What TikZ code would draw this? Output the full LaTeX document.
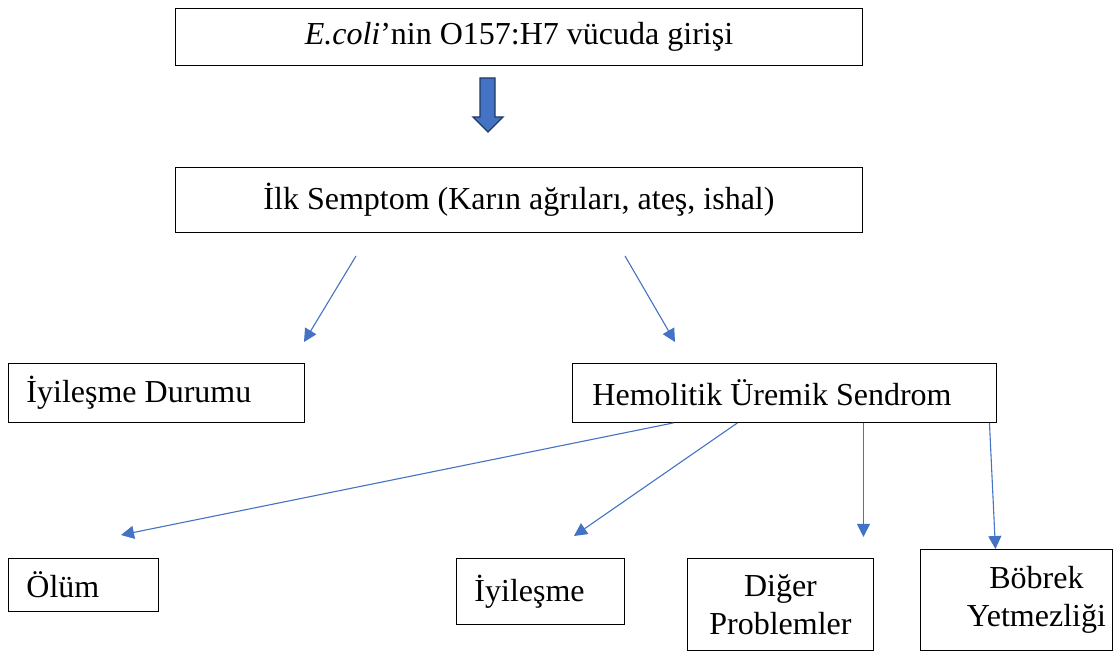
\documentclass[tikz,border=0pt]{standalone}
\usepackage{fontspec}
\setmainfont{Liberation Serif}
\usetikzlibrary{positioning, calc, arrows.meta}
\definecolor{okmavi}{HTML}{4472C4}
\definecolor{koyumavi}{HTML}{203864}

\begin{document}
\begin{tikzpicture}[x=1pt,y=-1pt,
        kutu/.style={draw, line width=0.9pt, anchor=north west, inner xsep=18pt, inner ysep=0pt,
            font=\fontsize{32}{38}\selectfont},
        ok/.style={okmavi, line width=1.1pt, -{Triangle[length=13pt,width=13pt]}}]
        \useasboundingbox (0,0) rectangle (1115,652);
        %kutular
            \node[kutu, minimum width=687pt, minimum height=57pt] (giris) at (175,8)
                {\textit{E.coli}’nin O157:H7 vücuda girişi};
            \node[kutu, minimum width=687pt, minimum height=65pt] (semptom) at (175,167)
                {İlk Semptom (Karın ağrıları, ateş, ishal)};
            \node[kutu, minimum width=296pt, minimum height=59pt, text width=260pt, align=flush left] (durum) at (8,363)
                {İyileşme Durumu};
            \node[kutu, minimum width=424pt, minimum height=59pt, inner xsep=20pt, text width=384pt, align=flush left] (hus) at (572,363)
                {Hemolitik Üremik Sendrom};
            \node[kutu, minimum width=150pt, minimum height=53pt, text width=114pt, align=flush left] (olum) at (8,558)
                {Ölüm};
            \node[kutu, minimum width=168pt, minimum height=66pt, text width=132pt, align=flush left] (iyilesme) at (456,558)
                {İyileşme};
            \node[kutu, minimum width=186pt, minimum height=92pt, inner xsep=0pt, align=center] (diger) at (687,558)
                {Diğer\\Problemler};
            \node[kutu, minimum width=192pt, minimum height=101pt, inner xsep=0pt, align=center] (bobrek) at (920,549)
                {\hspace*{40pt}Böbrek\\\hspace*{40pt}Yetmezliği};
        %kalin ok
            \draw[koyumavi, line width=1.3pt, fill=okmavi]
                (480,78) -- (495,78) -- (495,117) -- (503,117) -- (488,132)
                -- (473,117) -- (480,117) -- cycle;
        %serbest uclar
            \coordinate (s1) at (356,256);
            \coordinate (s2) at (625,256);
            \coordinate (u1) at (304,342);
            \coordinate (u2) at (675,342);
            \coordinate (u3) at (121,535);
            \coordinate (u4) at (574,536);
            \coordinate (u5) at ($(hus.south)+(79,114)$);
        %oklar
            \draw[ok] (s1) -- (u1);
            \draw[ok] (s2) -- (u2);
            \draw[ok] ([xshift=-111pt]hus.south) -- (u3);
            \draw[ok] ([xshift=-47pt]hus.south) -- (u4);
            \draw[ok] ([xshift=79pt]hus.south) -- (u5);
            \draw[ok] ([xshift=205pt]hus.south) -- ([xshift=-21pt]bobrek.north);
    \end{tikzpicture}
\end{document}
